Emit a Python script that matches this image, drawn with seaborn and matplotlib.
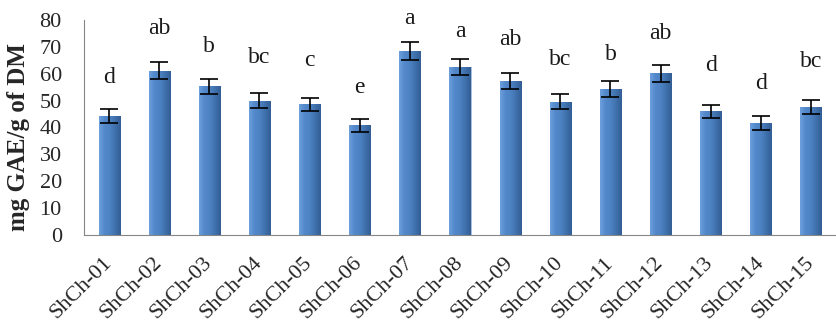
import matplotlib
matplotlib.use("Agg")
import matplotlib.pyplot as plt
import seaborn as sns
import pandas as pd
import numpy as np
from matplotlib.colors import LinearSegmentedColormap

categories = ["ShCh-01", "ShCh-02", "ShCh-03", "ShCh-04", "ShCh-05",
              "ShCh-06", "ShCh-07", "ShCh-08", "ShCh-09", "ShCh-10",
              "ShCh-11", "ShCh-12", "ShCh-13", "ShCh-14", "ShCh-15"]
values = [44.3, 61.1, 55.4, 50.0, 48.6, 40.8, 68.5, 62.6, 57.3, 49.6,
          54.3, 60.2, 46.1, 41.7, 47.5]
errors = [2.5, 3.2, 2.8, 2.7, 2.3, 2.5, 3.3, 3.0, 2.9, 2.7,
          2.9, 3.2, 2.4, 2.5, 2.6]
letters = ["d", "ab", "b", "bc", "c", "e", "a", "a", "ab", "bc",
           "b", "ab", "d", "d", "bc"]
letter_y = [56.4, 74.7, 68.2, 63.9, 62.9, 53.0, 78.5, 73.8, 70.7, 63.3,
            65.1, 72.8, 61.0, 54.2, 62.6]
y_ticks = [0, 10, 20, 30, 40, 50, 60, 70, 80]

df = pd.DataFrame({"sample": categories, "value": values})

sns.set_theme(style="white")
plt.rcParams["font.family"] = ["Liberation Serif", "DejaVu Serif"]

fig = plt.figure(figsize=(8.36, 3.24), dpi=100)
ax = fig.add_axes([84 / 836, 89 / 324, 752 / 836, 215 / 324])

sns.barplot(data=df, x="sample", y="value", ax=ax, color="#4a7ebb",
            width=0.42, edgecolor="#a9c0dc", linewidth=0.6, errorbar=None,
            saturation=1)

# horizontal shading inside each bar to mimic the bevelled look
cmap = LinearSegmentedColormap.from_list(
    "bevel", ["#6d9fdc", "#5289cb", "#4d82c2", "#3f70ac", "#335e94"])
grad = np.linspace(0, 1, 64).reshape(1, -1)
for p in list(ax.patches):
    x0, y0 = p.get_x(), p.get_y()
    w, h = p.get_width(), p.get_height()
    im = ax.imshow(grad, cmap=cmap, aspect="auto",
                   extent=[x0, x0 + w, y0, y0 + h], zorder=p.get_zorder() + 0.1,
                   interpolation="bicubic")
    im.set_clip_path(p)

x = np.arange(len(categories))
ax.errorbar(x, values, yerr=errors, fmt="none", ecolor="black",
            elinewidth=1.2, capsize=6.5, capthick=1.2, zorder=5)

for xi, lab, ly in zip(x, letters, letter_y):
    ax.text(xi, ly, lab, ha="center", va="baseline", fontsize=17,
            color="#1a1a1a")

ax.set_ylim(0, 80)
ax.set_yticks(y_ticks)
ax.set_xlim(-0.5, 14.36)

ax.set_xticks(x)
ax.set_xticklabels(categories, rotation=45, ha="right",
                   rotation_mode="anchor", fontsize=16)
ax.set_xticks(np.arange(-0.5, 15, 1), minor=True)
ax.tick_params(axis="x", which="major", length=0, pad=18)
ax.tick_params(axis="x", which="minor", length=5, width=0.8,
               color="#868686", direction="out")
ax.tick_params(axis="y", length=5, width=0.8, color="#868686",
               direction="out", labelsize=16, pad=11)
for lab in ax.get_xticklabels():
    lab.set_va("center")

ax.set_xlabel("")
ax.set_ylabel("mg GAE/g of DM", fontsize=18, fontweight="bold")
ax.yaxis.set_label_coords(-0.072, 0.455)

for s in ["top", "right"]:
    ax.spines[s].set_visible(False)
for s in ["left", "bottom"]:
    ax.spines[s].set_color("#868686")
    ax.spines[s].set_linewidth(0.8)

fig.savefig("out.png", dpi=100)
